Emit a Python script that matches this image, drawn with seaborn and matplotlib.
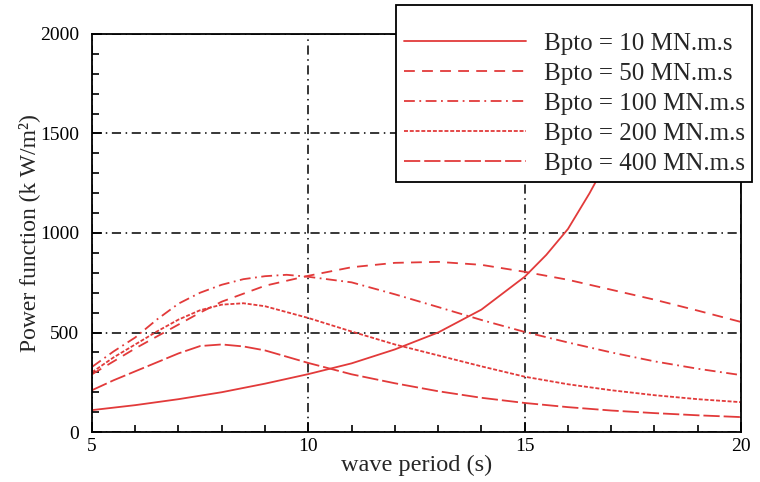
import matplotlib
matplotlib.use("Agg")
import matplotlib.pyplot as plt
from matplotlib.ticker import MultipleLocator
import pandas as pd
import seaborn as sns

sns.set_theme(style="ticks")
plt.rcParams["font.family"] = ["Liberation Serif", "DejaVu Serif"]

# ── data ─────────────────────────────────────────────────────────────────────
LABELS = ["Bpto = 10 MN.m.s", "Bpto = 50 MN.m.s", "Bpto = 100 MN.m.s",
          "Bpto = 200 MN.m.s", "Bpto = 400 MN.m.s"]

period_10 = [5, 6, 7, 8, 9, 10, 11, 12, 13, 14, 15, 15.5, 16, 16.5, 17, 17.5, 18]
power_10 = [110, 135, 165, 200, 243, 291, 345, 415, 500, 615, 780, 890, 1020, 1200, 1400, 1700, 2050]

period_50 = [5, 5.5, 6, 6.5, 7, 7.5, 8, 9, 10, 11, 12, 13, 14, 15, 16, 17, 18, 19, 20]
power_50 = [290, 355, 420, 480, 540, 600, 655, 735, 785, 828, 850, 855, 840, 805, 765, 715, 665, 610, 553]

period_100 = [5, 5.5, 6, 6.5, 7, 7.5, 8, 8.5, 9, 9.5, 10, 11, 12, 13, 14, 15, 16, 17, 18, 19, 20]
power_100 = [327, 405, 475, 565, 645, 700, 740, 768, 783, 790, 780, 752, 692, 628, 563, 503, 450, 400, 355, 318, 286]

period_200 = [5, 5.5, 6, 6.5, 7, 7.5, 8, 8.5, 9, 10, 11, 12, 13, 14, 15, 16, 17, 18, 19, 20]
power_200 = [300, 375, 440, 505, 565, 612, 640, 647, 632, 573, 505, 440, 385, 330, 278, 240, 210, 185, 165, 150]

period_400 = [5, 5.5, 6, 6.5, 7, 7.5, 8, 8.5, 9, 10, 11, 12, 13, 14, 15, 16, 17, 18, 19, 20]
power_400 = [210, 260, 305, 350, 395, 432, 440, 430, 410, 347, 290, 245, 205, 172, 146, 125, 108, 95, 84, 75]

DASHES = {
    LABELS[0]: "",
    LABELS[1]: (6, 4),
    LABELS[2]: (6, 2.5, 1, 2.5),
    LABELS[3]: (2.2, 1),
    LABELS[4]: (9, 2.2),
}

RED = "#e23a3a"

frames = []
for lab, xs, ys in zip(LABELS,
                       [period_10, period_50, period_100, period_200, period_400],
                       [power_10, power_50, power_100, power_200, power_400]):
    frames.append(pd.DataFrame({"period": xs, "power": ys, "Bpto": lab}))
df = pd.concat(frames, ignore_index=True)

fig = plt.figure(figsize=(7.6, 4.82), dpi=100)
ax = fig.add_axes([0.121, 0.1037, 0.854, 0.8258])

sns.lineplot(data=df, x="period", y="power", style="Bpto", style_order=LABELS,
             dashes=DASHES, color=RED, linewidth=1.3, sort=False,
             estimator=None, ax=ax, legend=True)

ax.set_xlim(5, 20)
ax.set_ylim(0, 2000)
ax.xaxis.set_major_locator(MultipleLocator(5))
ax.xaxis.set_minor_locator(MultipleLocator(1))
ax.yaxis.set_major_locator(MultipleLocator(500))
ax.yaxis.set_minor_locator(MultipleLocator(100))
ax.tick_params(which="both", direction="in", top=False, right=False,
               colors="black", labelsize=14, width=1.2)
ax.tick_params(which="major", length=7)
ax.tick_params(which="minor", length=5)
ax.tick_params(axis="y", which="major", pad=9)
ax.tick_params(axis="x", which="major", pad=4)
for sp in ax.spines.values():
    sp.set_visible(True)
    sp.set_color("black")
    sp.set_linewidth(1.3)

ax.grid(True, which="major", color="black", linestyle=(0, (6, 3, 1, 3)),
        linewidth=1.1)

ax.set_xlabel("wave period (s)", fontsize=17.5, labelpad=0)
ax.set_ylabel("Power function (k W/m²)", fontsize=17, labelpad=0)

handles, labels = ax.get_legend_handles_labels()
leg = ax.legend(handles, labels, loc="upper right",
                bbox_to_anchor=(0.9895, 0.9896), bbox_transform=fig.transFigure,
                fontsize=18, frameon=True, fancybox=False, framealpha=1,
                edgecolor="black", handlelength=4.9, handletextpad=0.7,
                labelspacing=0.3, borderpad=0.3, borderaxespad=0,
                title=" ", title_fontsize=9)
leg.get_frame().set_linewidth(1.3)
leg.set_zorder(10)

fig.savefig("out.png", dpi=100)
